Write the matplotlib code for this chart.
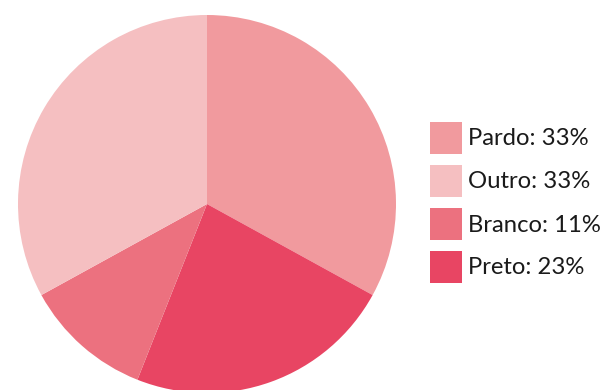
import matplotlib.pyplot as plt
from matplotlib.patches import Rectangle

# racial composition shares (legend order)
labels = ['Pardo', 'Outro', 'Branco', 'Preto']
shares = [33, 33, 11, 23]
colors = ['#f19a9e', '#f5bfc1', '#ec717f', '#e84563']

# pie is drawn clockwise from the top in this order
pie_order = ['Pardo', 'Preto', 'Branco', 'Outro']

W, H = 610, 390
fig = plt.figure(figsize=(W / 100, H / 100), dpi=100)

cx, cy, r = 207, 204, 189
ax = fig.add_axes([(cx - r) / W, (H - cy - r) / H, 2 * r / W, 2 * r / H])
idx = [labels.index(n) for n in pie_order]
ax.pie([shares[i] for i in idx], colors=[colors[i] for i in idx],
       startangle=90, counterclock=False, radius=1,
       wedgeprops={'linewidth': 0})
ax.set_xlim(-1, 1)
ax.set_ylim(-1, 1)
ax.set_aspect('equal')
ax.axis('off')

# legend: squares + labels
sq = 32
x0 = 430
y_top = 122
step = 43
for i, (name, val) in enumerate(zip(labels, shares)):
    top = y_top + i * step
    fig.patches.append(Rectangle((x0 / W, (H - top - sq) / H), sq / W, sq / H,
                                 transform=fig.transFigure, facecolor=colors[i],
                                 edgecolor='none'))
    fig.text((x0 + sq + 6) / W, (H - top - sq / 2 - 1) / H, f'{name}: {val}%',
             fontsize=17.2, family='Lato', color='#1a1a1a',
             va='center', ha='left')

fig.savefig('out.png', dpi=100)
